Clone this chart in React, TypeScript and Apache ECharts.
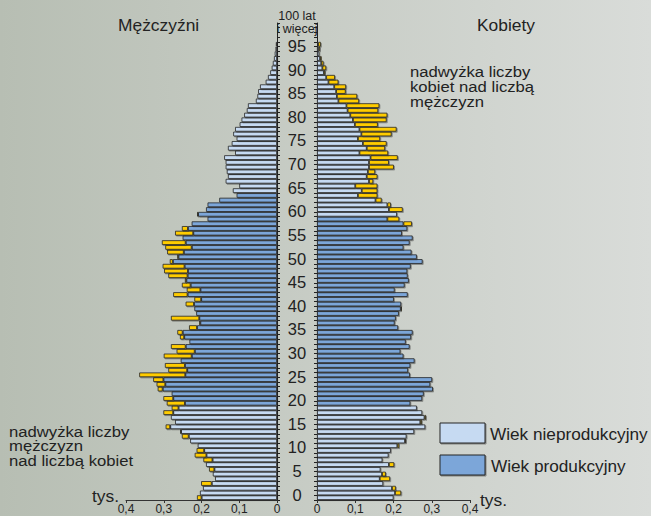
import React, { useEffect, useRef } from "react";
import * as echarts from "echarts";

// Age categories 0..100
const ages: string[] = Array.from({ length: 101 }, (_, i) => String(i));

// Population (thousands) by age
const male: number[] = [
  0.212, 0.204, 0.196, 0.201, 0.164, 0.170, 0.180, 0.188, 0.195, 0.218,
  0.213, 0.210, 0.230, 0.252, 0.257, 0.295, 0.270, 0.281, 0.301, 0.279,
  0.292, 0.301, 0.279, 0.316, 0.319, 0.328, 0.365, 0.288, 0.297, 0.257,
  0.300, 0.266, 0.281, 0.232, 0.257, 0.264, 0.233, 0.206, 0.281, 0.216,
  0.219, 0.242, 0.219, 0.275, 0.239, 0.252, 0.244, 0.288, 0.299, 0.303,
  0.284, 0.264, 0.291, 0.296, 0.305, 0.252, 0.270, 0.252, 0.226, 0.184,
  0.212, 0.188, 0.184, 0.153, 0.107, 0.117, 0.100, 0.136, 0.130, 0.133,
  0.136, 0.136, 0.140, 0.111, 0.130, 0.120, 0.107, 0.116, 0.111, 0.099,
  0.094, 0.087, 0.080, 0.077, 0.056, 0.052, 0.050, 0.045, 0.030, 0.024,
  0.018, 0.014, 0.011, 0.008, 0.006, 0.004, 0.003, 0.002, 0.001, 0.001,
  0.001,
];

const female: number[] = [
  0.200, 0.220, 0.206, 0.173, 0.191, 0.180, 0.166, 0.202, 0.171, 0.187,
  0.193, 0.215, 0.233, 0.234, 0.254, 0.283, 0.274, 0.285, 0.275, 0.261,
  0.244, 0.275, 0.281, 0.303, 0.296, 0.301, 0.243, 0.238, 0.244, 0.255,
  0.226, 0.218, 0.242, 0.234, 0.246, 0.250, 0.212, 0.203, 0.206, 0.214,
  0.222, 0.220, 0.201, 0.237, 0.203, 0.229, 0.240, 0.237, 0.236, 0.245,
  0.276, 0.261, 0.247, 0.226, 0.242, 0.250, 0.222, 0.236, 0.248, 0.215,
  0.209, 0.224, 0.193, 0.169, 0.158, 0.158, 0.158, 0.147, 0.158, 0.152,
  0.201, 0.188, 0.211, 0.186, 0.178, 0.182, 0.165, 0.195, 0.208, 0.159,
  0.182, 0.184, 0.160, 0.163, 0.110, 0.105, 0.075, 0.076, 0.056, 0.047,
  0.022, 0.024, 0.017, 0.012, 0.008, 0.008, 0.010, 0.004, 0.003, 0.002,
  0.002,
];

// Productive age ranges (row indices)
const maleProductive: [number, number] = [20, 64];
const femaleProductive: [number, number] = [20, 59];

const xTicks: number[] = [0, 0.1, 0.2, 0.3, 0.4];

const LIGHT = "#c6daf2";
const DARK = "#7ba6d9";
const YELLOW = "#ffcc00";
const BORDER = "#262626";
const FONT = '"Liberation Sans", Arial, sans-serif';
const TEXT = "#222";

export default function App() {
  const ref = useRef<HTMLDivElement>(null);
  useEffect(() => {
    document.body.style.margin = "0";
    const chart = echarts.init(ref.current!, null, { renderer: "svg" });

    const base = ages.map((_, i) => +Math.min(male[i], female[i]).toFixed(3));
    const mExc = ages.map((_, i) => (male[i] > female[i] ? +(male[i] - female[i]).toFixed(3) : null));
    const fExc = ages.map((_, i) => (female[i] > male[i] ? +(female[i] - male[i]).toFixed(3) : null));

    const colored = (range: [number, number]) =>
      base.map((v, i) => ({
        value: v,
        itemStyle: { color: i >= range[0] && i <= range[1] ? DARK : LIGHT },
      }));

    const barStyle = {
      borderColor: BORDER,
      borderWidth: 0.8,
      shadowColor: "rgba(40,40,40,0.45)",
      shadowOffsetX: 1,
      shadowOffsetY: 1,
      shadowBlur: 1,
    };

    const fmtX = (v: number) => (v === 0 ? "0" : v.toFixed(1).replace(".", ","));

    const xAxisCommon = {
      type: "value",
      min: xTicks[0],
      max: xTicks[xTicks.length - 1],
      interval: 0.1,
      splitLine: { show: false },
      axisLine: { show: true, lineStyle: { color: "#333", width: 1 } },
      axisTick: { show: true, length: 3, lineStyle: { color: "#333" } },
      axisLabel: {
        formatter: fmtX,
        fontSize: 12,
        lineHeight: 12,
        fontFamily: FONT,
        color: TEXT,
        margin: 3,
      },
    };

    const gridTop = 23;
    const gridH = 477;
    const shadow = { shadowColor: "rgba(40,40,40,0.45)", shadowOffsetX: 1, shadowOffsetY: 1, shadowBlur: 1 };

    chart.setOption({
      animation: false,
      backgroundColor: {
        type: "linear",
        x: 0,
        y: 0,
        x2: 1,
        y2: 0,
        colorStops: [
          { offset: 0, color: "#b7beb3" },
          { offset: 1, color: "#d9dcd9" },
        ],
      },
      textStyle: { fontFamily: FONT },
      grid: [
        { left: 126, top: gridTop, width: 151, height: gridH, outerBoundsMode: "none", containLabel: false },
        { left: 317, top: gridTop, width: 153, height: gridH, outerBoundsMode: "none", containLabel: false },
      ],
      xAxis: [
        { ...xAxisCommon, gridIndex: 0, inverse: true },
        { ...xAxisCommon, gridIndex: 1 },
      ],
      yAxis: [
        {
          type: "category",
          gridIndex: 0,
          data: ages,
          position: "right",
          axisLine: { show: true, lineStyle: { color: "#222", width: 1 } },
          axisTick: { show: true, interval: 0, length: 3, lineStyle: { color: "#222" } },
          axisLabel: {
            interval: (index: number) => index % 5 === 0,
            formatter: (v: string) => (v === "100" ? "{s|100 lat}\n{s|i więcej}" : v),
            align: "center",
            margin: 20,
            fontSize: 16.5,
            fontFamily: FONT,
            color: TEXT,
            padding: [0, 0, 6, 0],
            rich: { s: { fontSize: 12.5, lineHeight: 12.5, fontFamily: FONT, color: TEXT } },
          },
        },
        {
          type: "category",
          gridIndex: 1,
          data: ages,
          position: "left",
          axisLine: { show: true, lineStyle: { color: "#222", width: 1 } },
          axisTick: { show: true, interval: 0, length: 3, lineStyle: { color: "#222" } },
          axisLabel: { show: false },
        },
      ],
      series: [
        {
          name: "Mężczyźni",
          type: "bar",
          xAxisIndex: 0,
          yAxisIndex: 0,
          stack: "m",
          barCategoryGap: "0%",
          data: colored(maleProductive),
          itemStyle: barStyle,
        },
        {
          name: "Nadwyżka mężczyzn",
          type: "bar",
          xAxisIndex: 0,
          yAxisIndex: 0,
          stack: "m",
          barCategoryGap: "0%",
          data: mExc,
          itemStyle: { ...barStyle, color: YELLOW },
        },
        {
          name: "Kobiety",
          type: "bar",
          xAxisIndex: 1,
          yAxisIndex: 1,
          stack: "f",
          barCategoryGap: "0%",
          data: colored(femaleProductive),
          itemStyle: barStyle,
        },
        {
          name: "Nadwyżka kobiet",
          type: "bar",
          xAxisIndex: 1,
          yAxisIndex: 1,
          stack: "f",
          barCategoryGap: "0%",
          data: fExc,
          itemStyle: { ...barStyle, color: YELLOW },
        },
      ],
      graphic: [
        {
          type: "text",
          x: 118,
          y: 25,
          style: { text: "Mężczyźni", font: `17.4px ${FONT}`, fill: TEXT, textVerticalAlign: "middle" },
        },
        {
          type: "text",
          x: 477,
          y: 25,
          style: { text: "Kobiety", font: `17.4px ${FONT}`, fill: TEXT, textVerticalAlign: "middle" },
        },
        {
          type: "text",
          x: 410,
          y: 64.5,
          scaleX: 1.15,
          style: {
            text: "nadwyżka liczby\nkobiet nad liczbą\nmężczyzn",
            font: `14.5px ${FONT}`,
            lineHeight: 14.8,
            fill: TEXT,
          },
        },
        {
          type: "text",
          x: 9,
          y: 424.5,
          scaleX: 1.15,
          style: {
            text: "nadwyżka liczby\nmężczyzn\nnad liczbą kobiet",
            font: `14.5px ${FONT}`,
            lineHeight: 14.6,
            fill: TEXT,
          },
        },
        {
          type: "text",
          x: 92,
          y: 496,
          style: { text: "tys.", font: `17.4px ${FONT}`, fill: TEXT, textVerticalAlign: "middle" },
        },
        {
          type: "text",
          x: 480,
          y: 500,
          style: { text: "tys.", font: `17.4px ${FONT}`, fill: TEXT, textVerticalAlign: "middle" },
        },
        {
          type: "rect",
          shape: { x: 440, y: 423, width: 45, height: 20 },
          style: { fill: LIGHT, stroke: BORDER, lineWidth: 1, ...shadow },
        },
        {
          type: "rect",
          shape: { x: 440, y: 455, width: 45, height: 20 },
          style: { fill: DARK, stroke: BORDER, lineWidth: 1, ...shadow },
        },
        {
          type: "text",
          x: 490,
          y: 434,
          style: { text: "Wiek nieprodukcyjny", font: `17.2px ${FONT}`, fill: TEXT, textVerticalAlign: "middle" },
        },
        {
          type: "text",
          x: 491,
          y: 466,
          style: { text: "Wiek produkcyjny", font: `17.2px ${FONT}`, fill: TEXT, textVerticalAlign: "middle" },
        },
      ],
    });

    return () => chart.dispose();
  }, []);

  return (
    <div
      ref={ref}
      style={{ position: "fixed", left: 0, top: 0, width: 651, height: 516 }}
    />
  );
}
